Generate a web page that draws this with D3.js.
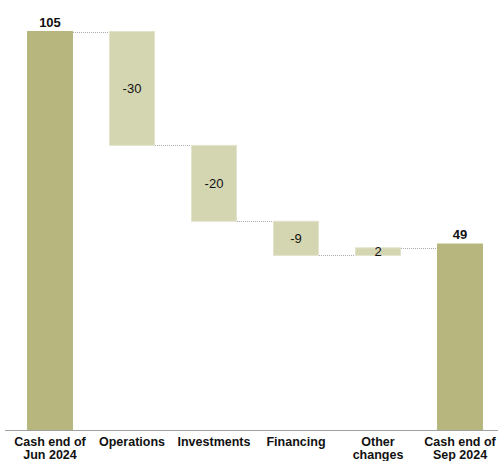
<!DOCTYPE html>
<html>
<head>
<meta charset="utf-8">
<script src="https://cdn.jsdelivr.net/npm/d3@7"></script>
<style>
  html, body { margin: 0; padding: 0; background: #fff; }
  svg { display: block; font-family: "Liberation Sans", Arial, sans-serif; }
</style>
</head>
<body>
<svg id="chart" width="498" height="461"></svg>
<script>
// Cash bridge, Jun 2024 -> Sep 2024
const categories = [["Cash end of", "Jun 2024"], ["Operations"], ["Investments"], ["Financing"], ["Other", "changes"], ["Cash end of", "Sep 2024"]];
const values = [105, -30, -20, -9, 2, 49];
const isTotal = [true, false, false, false, false, true];

const svg = d3.select("#chart");
const baseY = 430;

const keys = categories.map((c, i) => i);
const x = d3.scaleBand().domain(keys).range([9, 501]).paddingInner(0.44).paddingOuter(0.22);
const y = d3.scaleLinear().domain([0, 105]).range([baseY, 31.5]);

// running start/end for each step
let run = 0;
const steps = values.map((v, i) => {
  let s, e;
  if (isTotal[i]) { s = 0; e = v; run = v; }
  else { s = run; e = run + v; run = e; }
  return { i, v, s, e, total: isTotal[i] };
});

// dotted connectors between neighbouring bars
const conns = steps.slice(0, -1).map((d, k) => {
  return { x1: x(d.i) + x.bandwidth(), x2: x(steps[k + 1].i), y: y(d.e) };
});
svg.append("g").selectAll("line").data(conns).join("line")
  .attr("x1", d => d.x1).attr("x2", d => d.x2)
  .attr("y1", d => Math.round(d.y) + 0.5).attr("y2", d => Math.round(d.y) + 0.5)
  .attr("stroke", "#aaaaaa").attr("stroke-width", 1).attr("stroke-dasharray", "1,1");

// bars
svg.append("g").selectAll("rect").data(steps).join("rect")
  .attr("x", d => x(d.i) + 0.5)
  .attr("width", x.bandwidth() - 1)
  .attr("y", d => y(Math.max(d.s, d.e)))
  .attr("height", d => Math.abs(y(d.s) - y(d.e)))
  .attr("fill", d => d.total ? "#b6b67e" : "#d4d5b1")
  .attr("stroke", d => d.total ? "#b6b67e" : "#e2e3cc")
  .attr("stroke-width", 1);

// value labels
svg.append("g").selectAll("text").data(steps).join("text")
  .attr("x", d => x(d.i) + x.bandwidth() / 2)
  .attr("y", d => d.total ? y(d.e) - 5 : (y(d.s) + y(d.e)) / 2 + 4.5)
  .attr("text-anchor", "middle")
  .attr("font-size", 13)
  .attr("font-weight", d => d.total ? "bold" : "normal")
  .attr("fill", "#111")
  .text(d => d.v);

// baseline
svg.append("line")
  .attr("x1", 5).attr("x2", 498)
  .attr("y1", baseY + 0.5).attr("y2", baseY + 0.5)
  .attr("stroke", "#a0a0a0").attr("stroke-width", 1);

// category labels
const lab = svg.append("g").selectAll("text").data(keys).join("text")
  .attr("x", d => x(d) + x.bandwidth() / 2)
  .attr("y", 446)
  .attr("text-anchor", "middle")
  .attr("font-size", 12.5)
  .attr("font-weight", "bold")
  .attr("fill", "#111");
lab.selectAll("tspan").data(d => categories[d]).join("tspan")
  .attr("x", function() { return d3.select(this.parentNode).attr("x"); })
  .attr("dy", (d, j) => j === 0 ? 0 : 13)
  .text(d => d);
</script>
</body>
</html>
